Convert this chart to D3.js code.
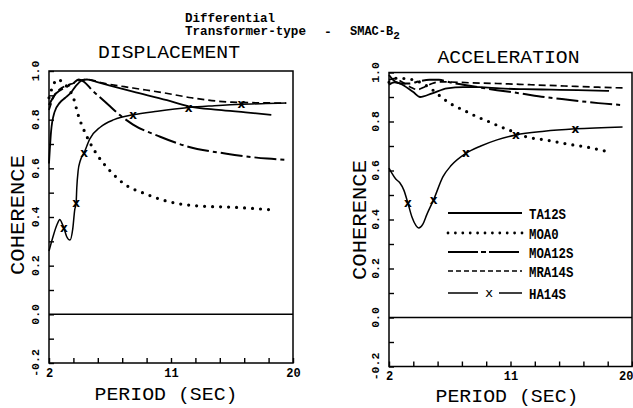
<!DOCTYPE html>
<html><head><meta charset="utf-8">
<script src="https://cdn.jsdelivr.net/npm/d3@7"></script>
<style>
html,body{margin:0;padding:0;background:#fff;}
svg{display:block;}
text{fill:#000;}
</style></head>
<body>
<script>
// ---------- data ----------
const seriesNames = ["TA12S", "MOA0", "MOA12S", "MRA14S", "HA14S"];
const periodTickLabels = [2, 11, 20];
const coherenceTickLabels = [-0.2, 0.0, 0.2, 0.4, 0.6, 0.8, 1.0];
const panelTitles = ["DISPLACEMENT", "ACCELERATION"];

// Displacement panel: [period (sec), coherence]
const dispTA12S = [[2.0,0.62],[2.15,0.75],[2.4,0.83],[2.8,0.87],[3.2,0.89],[3.6,0.91],[4.0,0.94],[4.4,0.96],[4.8,0.965],[5.5,0.955],[6.5,0.94],[8.2,0.915],[10.7,0.88],[12.3,0.855],[14.5,0.84],[16.5,0.83],[18.4,0.82]];
const dispMOA0 = [[2.0,0.89],[2.3,0.94],[2.6,0.965],[3.0,0.955],[3.4,0.93],[3.8,0.89],[4.15,0.82],[4.8,0.73],[5.5,0.66],[6.5,0.59],[7.7,0.53],[8.9,0.50],[10.7,0.465],[13.1,0.445],[15.6,0.44],[18.3,0.43]];
const dispMOA12S = [[2.0,0.86],[2.4,0.90],[2.8,0.92],[3.3,0.935],[3.8,0.95],[4.2,0.965],[4.6,0.955],[5.2,0.92],[5.8,0.89],[6.5,0.855],[7.2,0.82],[8.2,0.78],[10.2,0.73],[12.2,0.69],[15.1,0.66],[18.1,0.64],[19.4,0.635]];
const dispMRA14S = [[2.0,0.84],[2.4,0.90],[2.8,0.925],[3.3,0.94],[3.8,0.95],[4.3,0.962],[4.8,0.965],[6.0,0.95],[8.2,0.93],[10.5,0.91],[12.5,0.89],[15.5,0.872],[19.5,0.868]];
const dispHA14S = [[2.0,0.26],[2.3,0.32],[2.6,0.37],[2.8,0.39],[2.95,0.375],[3.1,0.355],[3.3,0.32],[3.55,0.305],[3.75,0.35],[3.9,0.43],[4.0,0.456],[4.05,0.52],[4.15,0.59],[4.3,0.63],[4.6,0.665],[5.0,0.72],[5.8,0.77],[6.8,0.80],[8.2,0.82],[10.0,0.835],[12.3,0.85],[14.2,0.857],[16.2,0.863],[18.0,0.866],[19.5,0.868]];
const dispHA14SMarks = [3.1, 4.0, 4.6, 8.2, 12.3, 16.2];

// Acceleration panel: [period (sec), coherence]
const accTA12S = [[2.0,0.99],[2.3,0.97],[3.0,0.95],[3.8,0.92],[4.3,0.90],[5.2,0.915],[6.3,0.935],[7.5,0.94],[8.7,0.94],[10.2,0.935],[12.0,0.932],[14.0,0.93],[16.0,0.928],[18.3,0.925]];
const accMOA0 = [[2.0,0.96],[2.6,0.977],[3.2,0.975],[3.8,0.97],[4.5,0.955],[5.2,0.93],[6.1,0.89],[6.7,0.868],[7.5,0.847],[8.5,0.82],[9.5,0.797],[10.2,0.78],[10.9,0.765],[12.2,0.737],[13.7,0.724],[15.0,0.71],[16.6,0.696],[18.3,0.676]];
const accMOA12S = [[2.0,0.95],[2.4,0.96],[3.0,0.955],[3.5,0.955],[4.3,0.965],[5.0,0.97],[5.7,0.97],[6.5,0.96],[7.5,0.95],[8.6,0.94],[10.0,0.928],[11.7,0.915],[13.5,0.90],[15.4,0.888],[17.5,0.875],[19.3,0.867]];
const accMRA14S = [[2.0,0.97],[2.4,0.975],[3.0,0.96],[3.6,0.94],[4.1,0.93],[4.6,0.94],[5.2,0.955],[5.8,0.962],[8.0,0.958],[10.0,0.955],[12.5,0.95],[15.0,0.945],[17.5,0.94],[19.3,0.937]];
const accHA14S = [[2.0,0.61],[2.2,0.59],[2.5,0.565],[2.8,0.55],[3.1,0.52],[3.4,0.467],[3.7,0.41],[4.0,0.375],[4.2,0.365],[4.5,0.38],[4.8,0.42],[5.3,0.48],[6.0,0.575],[6.6,0.62],[7.7,0.67],[8.8,0.70],[10.0,0.725],[11.4,0.745],[13.5,0.76],[15.8,0.77],[19.3,0.778]];
const accHA14SMarks = [3.4, 5.3, 7.7, 11.4, 15.8];

// ---------- styles ----------
const styles = {
  TA12S:  {dash: null, width: 1.8, cap: "butt"},
  MOA0:   {dash: "0,8", width: 3.2, cap: "round"},
  MOA12S: {dash: "22,4,4,4", width: 2, cap: "butt"},
  MRA14S: {dash: "7,4", width: 1.7, cap: "butt"},
  HA14S:  {dash: null, width: 1.5, cap: "butt"}
};

const W = 633, H = 408;
const svg = d3.select("body").append("svg").attr("width", W).attr("height", H)
  .style("font-family", "'Liberation Mono', 'DejaVu Sans Mono', monospace");

// Header
svg.append("text").attr("x", 185).attr("y", 22).attr("font-size", 12.5).attr("font-weight", "bold")
  .attr("textLength", 90).attr("lengthAdjust", "spacingAndGlyphs").text("Differential");
svg.append("text").attr("x", 185).attr("y", 35).attr("font-size", 12.5).attr("font-weight", "bold")
  .attr("textLength", 121).attr("lengthAdjust", "spacingAndGlyphs").text("Transformer-type");
svg.append("text").attr("x", 324).attr("y", 36).attr("font-size", 13).attr("font-weight", "bold").text("-");
const smac = svg.append("text").attr("x", 350).attr("y", 35).attr("font-size", 12).attr("font-weight", "bold");
smac.append("tspan").text("SMAC-B");
smac.append("tspan").attr("dy", 4).attr("font-size", 11).text("2");

function drawPanel(cfg) {
  const x = d3.scaleLinear().domain([2, 20]).range([cfg.x0, cfg.x1]);
  const y = d3.scaleLinear().domain([-0.2, 1.0]).range([cfg.y1, cfg.y0]);
  const g = svg.append("g");

  // frame
  g.append("rect").attr("x", cfg.x0).attr("y", cfg.y0)
    .attr("width", cfg.x1 - cfg.x0).attr("height", cfg.y1 - cfg.y0)
    .attr("fill", "none").attr("stroke", "#000").attr("stroke-width", 1.5);
  // zero line
  g.append("line").attr("x1", cfg.x0).attr("x2", cfg.x1).attr("y1", y(0)).attr("y2", y(0))
    .attr("stroke", "#000").attr("stroke-width", 1.5);

  // axes (ticks inside)
  const xTicks = d3.range(0, 11).map(i => 2 + i * 1.8);
  const xAxis = d3.axisBottom(x).tickValues(xTicks).tickSize(-5).tickFormat(d => {
    const r = Math.round(d * 10) / 10;
    return periodTickLabels.includes(r) ? String(r) : "";
  });
  const xa = g.append("g").attr("transform", `translate(0,${cfg.y1})`).call(xAxis);
  xa.select(".domain").remove();
  xa.selectAll("line").attr("stroke-width", 1.4);
  xa.selectAll("text").attr("font-size", 12).attr("font-weight", "bold").attr("dy", "0.9em")
    .attr("font-family", "'Liberation Mono', monospace");
  if (cfg.lastLabelEnd) {
    xa.selectAll(".tick text").filter(d => Math.round(d * 10) / 10 === 20)
      .attr("text-anchor", "end").attr("x", 1);
  }

  const yTicks = d3.range(0, 13).map(i => -0.2 + i * 0.1);
  const yAxis = d3.axisLeft(y).tickValues(yTicks).tickSize(-5).tickFormat("");
  const ya = g.append("g").attr("transform", `translate(${cfg.x0},0)`).call(yAxis);
  ya.select(".domain").remove();
  ya.selectAll("line").attr("stroke-width", 1.4);

  coherenceTickLabels.forEach(v => {
    g.append("text").attr("transform", `translate(${cfg.x0 - 10},${y(v)}) rotate(-90)`)
      .attr("text-anchor", "middle").attr("font-size", 11.5).attr("font-weight", "bold")
      .text(v.toFixed(1));
  });

  // titles
  g.append("text").attr("x", (cfg.x0 + cfg.x1) / 2 - 2).attr("y", cfg.titleY).attr("text-anchor", "middle")
    .attr("font-size", 19).attr("textLength", 142).attr("lengthAdjust", "spacingAndGlyphs").text(cfg.title);
  g.append("text").attr("x", cfg.xLabelX).attr("y", cfg.xLabelY).attr("text-anchor", "middle")
    .attr("font-size", 18.5).attr("textLength", 143).attr("lengthAdjust", "spacingAndGlyphs").text("PERIOD (SEC)");
  g.append("text").attr("transform", `translate(${cfg.yLabelX},${cfg.yLabelY}) rotate(-90)`)
    .attr("text-anchor", "middle").attr("font-size", 20).attr("textLength", 120)
    .attr("lengthAdjust", "spacingAndGlyphs").text("COHERENCE");

  // series
  const line = d3.line().x(d => x(d[0])).y(d => y(d[1])).curve(d3.curveMonotoneX);
  seriesNames.forEach(name => {
    const s = styles[name];
    const p = g.append("path").datum(cfg.series[name]).attr("d", line)
      .attr("fill", "none").attr("stroke", "#000").attr("stroke-width", s.width)
      .attr("stroke-linecap", s.cap).attr("stroke-linejoin", "round");
    if (s.dash) p.attr("stroke-dasharray", s.dash);
  });
  // HA14S markers
  const markPts = cfg.series.HA14S.filter(d => cfg.marks.includes(d[0]));
  g.selectAll(".mk").data(markPts).enter().append("text")
    .attr("x", d => x(d[0])).attr("y", d => y(d[1]) + 4)
    .attr("text-anchor", "middle").attr("font-size", 12).attr("font-weight", "bold")
    .attr("font-family", "'DejaVu Sans', sans-serif").text("x");
  return {x, y, g};
}

drawPanel({
  x0: 49, x1: 293, y0: 71, y1: 363, titleY: 58, title: panelTitles[0],
  xLabelX: 166, xLabelY: 400, yLabelX: 24, yLabelY: 215,
  series: {TA12S: dispTA12S, MOA0: dispMOA0, MOA12S: dispMOA12S, MRA14S: dispMRA14S, HA14S: dispHA14S},
  marks: dispHA14SMarks, lastLabelEnd: false
});
drawPanel({
  x0: 389, x1: 632, y0: 72.5, y1: 366.5, titleY: 63, title: panelTitles[1],
  xLabelX: 507, xLabelY: 402, yLabelX: 366, yLabelY: 220,
  series: {TA12S: accTA12S, MOA0: accMOA0, MOA12S: accMOA12S, MRA14S: accMRA14S, HA14S: accHA14S},
  marks: accHA14SMarks, lastLabelEnd: true
});

// Legend (in acceleration panel)
const legY = [213, 233, 252, 271, 293];
const lg = svg.append("g");
seriesNames.forEach((name, i) => {
  const s = styles[name];
  if (name === "HA14S") {
    lg.append("line").attr("x1", 448).attr("x2", 478).attr("y1", legY[i]).attr("y2", legY[i])
      .attr("stroke", "#000").attr("stroke-width", s.width);
    lg.append("line").attr("x1", 499).attr("x2", 522).attr("y1", legY[i]).attr("y2", legY[i])
      .attr("stroke", "#000").attr("stroke-width", s.width);
    lg.append("text").attr("x", 489).attr("y", legY[i] + 4).attr("text-anchor", "middle")
      .attr("font-size", 13).attr("font-family", "'DejaVu Sans', sans-serif").text("x");
  } else {
    const l = lg.append("line").attr("x1", 448).attr("x2", 522).attr("y1", legY[i]).attr("y2", legY[i])
      .attr("stroke", "#000").attr("stroke-width", s.width).attr("stroke-linecap", s.cap);
    if (name === "MOA0") l.attr("stroke-dasharray", "0,7.4").attr("stroke-width", 2.8);
    else if (name === "MOA12S") l.attr("stroke-dasharray", "30,3,5,3");
    else if (s.dash) l.attr("stroke-dasharray", "5,3");
  }
  lg.append("text").attr("x", 529).attr("y", legY[i] + 6).attr("font-size", 15).attr("font-weight", "bold")
    .attr("textLength", name.length * 7.4).attr("lengthAdjust", "spacingAndGlyphs").text(name);
});
</script>
</body></html>
